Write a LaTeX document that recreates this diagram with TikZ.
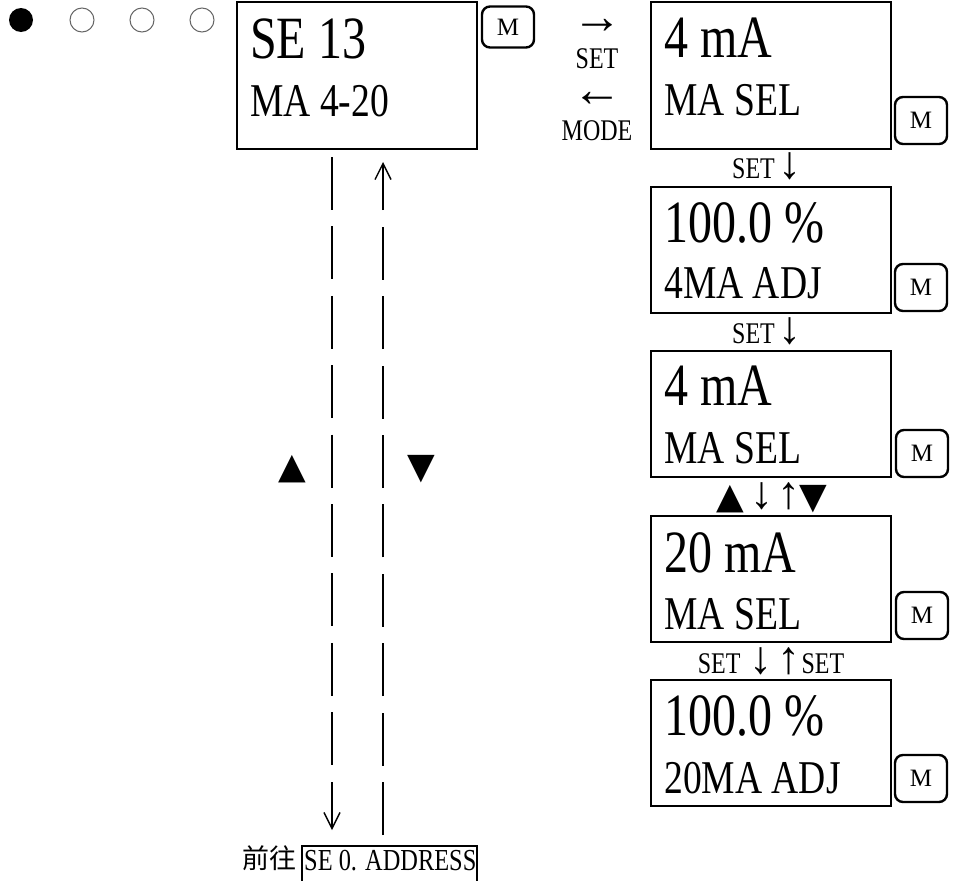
\documentclass[tikz,border=0pt]{standalone}
\usepackage{fontspec}
\setmainfont{Liberation Serif}[FakeStretch=0.8]
\newfontfamily\mfont{Liberation Serif}
\newfontfamily\symfont{DejaVu Sans}
\newfontfamily\cjk{Noto Sans CJK TC}
\newcommand\arrsz{\mfont\fontsize{46}{46}\selectfont}
\newcommand\trisz{\symfont\fontsize{36}{36}\selectfont}
\usetikzlibrary{arrows.meta}
\tikzset{
  lcd/.style={draw, line width=2.8pt, inner sep=0pt, minimum width=240pt},
  mbtn/.style={draw, rounded corners=8pt, line width=2.4pt, minimum width=52pt, minimum height=47pt, inner sep=0pt, font=\mfont\fontsize{25}{25}\selectfont},
  bigtxt/.style={anchor=base west, inner sep=0pt, font=\fontsize{60}{60}\selectfont},
  midtxt/.style={anchor=base west, inner sep=0pt, font=\fontsize{47}{47}\selectfont},
  lab/.style={inner sep=0pt, font=\fontsize{30}{30}\selectfont},
  dline/.style={line width=2pt, dash pattern=on 53pt off 16.4pt},
  tarrow/.style={line width=1.2pt, -{Straight Barb[length=16pt,width=16pt,line width=1.4pt]}},
  dotopen/.style={draw=black!60, line width=1pt},
}
\begin{document}
\begin{tikzpicture}[x=1pt,y=-1pt]
\useasboundingbox (0,0) rectangle (962,881);
\clip (0,0) rectangle (962,881);
% progress dots
\fill (21,20) circle (12pt);
\draw[dotopen] (82,20) circle (12pt);
\draw[dotopen] (142,20) circle (12pt);
\draw[dotopen] (202,20) circle (12pt);

% main box
\node[lcd, minimum height=147pt] (b0) at (357,75.5) {};
\node[bigtxt] (b0t1) at (250,58) {SE 13};
\node[midtxt] (b0t2) at (250,116) {MA 4-20};
\node[mbtn, minimum height=41pt] (m0) at (508,27) {M};

% SET / MODE labels
\node[lab, font=\mfont\fontsize{50}{50}\selectfont] (ar1) at (597,33) {\smash{→}};
\node[lab, anchor=base] (set0) at (597,68) {SET};
\node[lab, font=\mfont\fontsize{50}{50}\selectfont] (ar2) at (597,106) {\smash{←}};
\node[lab, anchor=base] (mode0) at (597,140) {MODE};

% right column
\node[lcd, minimum height=147pt] (b1) at (771,75.5) {};
\node[bigtxt] at (664,57) {4 mA};
\node[midtxt] at (664,115) {MA SEL};
\node[mbtn] (m1) at (921,120.5) {M};

\node[lab, anchor=base] (s1) at (767,178) {SET\hspace{4pt}{\arrsz ↓}};

\node[lcd, minimum height=126pt] (b2) at (771,250) {};
\node[bigtxt] at (664,242) {100.0 \%};
\node[midtxt] at (664,298) {4MA ADJ};
\node[mbtn] (m2) at (921,287.5) {M};

\node[lab, anchor=base] (s2) at (767,343) {SET\hspace{4pt}{\arrsz ↓}};

\node[lcd, minimum height=126pt] (b3) at (771,414) {};
\node[bigtxt] at (664,405) {4 mA};
\node[midtxt] at (664,463) {MA SEL};
\node[mbtn] (m3) at (922,453.5) {M};

\node[lab, anchor=base] (s3) at (771.5,508) {{\trisz ▲}\hspace{6pt}{\arrsz ↓\hspace{5pt}↑}\hspace{-2pt}{\trisz ▼}};

\node[lcd, minimum height=126pt] (b4) at (771,579) {};
\node[bigtxt] at (664,572) {20 mA};
\node[midtxt] at (664,629) {MA SEL};
\node[mbtn] (m4) at (922,615.5) {M};

\node[lab, anchor=base] (s4) at (771,673) {SET\hspace{9pt}{\arrsz ↓\hspace{5pt}↑}\hspace{1pt}SET};

\node[lcd, minimum height=126pt] (b5) at (771,743) {};
\node[bigtxt] at (664,735) {100.0 \%};
\node[midtxt] at (664,793) {20MA ADJ};
\node[mbtn] (m5) at (921,778.5) {M};

% bottom target
\node[draw, line width=2.8pt, minimum width=175pt, minimum height=50pt, inner sep=0pt] (addr) at (389.5,871) {};
\node[lab, anchor=base west, font=\fontsize{30.5}{30.5}\selectfont] (addrt) at (304,870) {SE 0. ADDRESS};
\node[inner sep=0pt, anchor=base west, font=\cjk\fontsize{27}{27}\selectfont] (goto) at (242,868) {前往};

% dashed connectors
\coordinate (l0) at (332,157);
\coordinate (l1) at (332,766);
\coordinate (l2) at (332,782);
\coordinate (l3) at (332,830);
\draw[dline] (l0) -- (l1);
\draw[tarrow] (l2) -- (l3);

\coordinate (r0) at (383,835);
\coordinate (r1) at (383,227);
\coordinate (r2) at (383,210);
\coordinate (r3) at (383,162);
\draw[dline] (r0) -- (r1);
\draw[tarrow] (r2) -- (r3);

% triangles
\node[inner sep=0pt, font=\trisz] (up) at (292,469) {▲};
\node[inner sep=0pt, font=\trisz] (dn) at (421,469) {▼};
\end{tikzpicture}
\end{document}
